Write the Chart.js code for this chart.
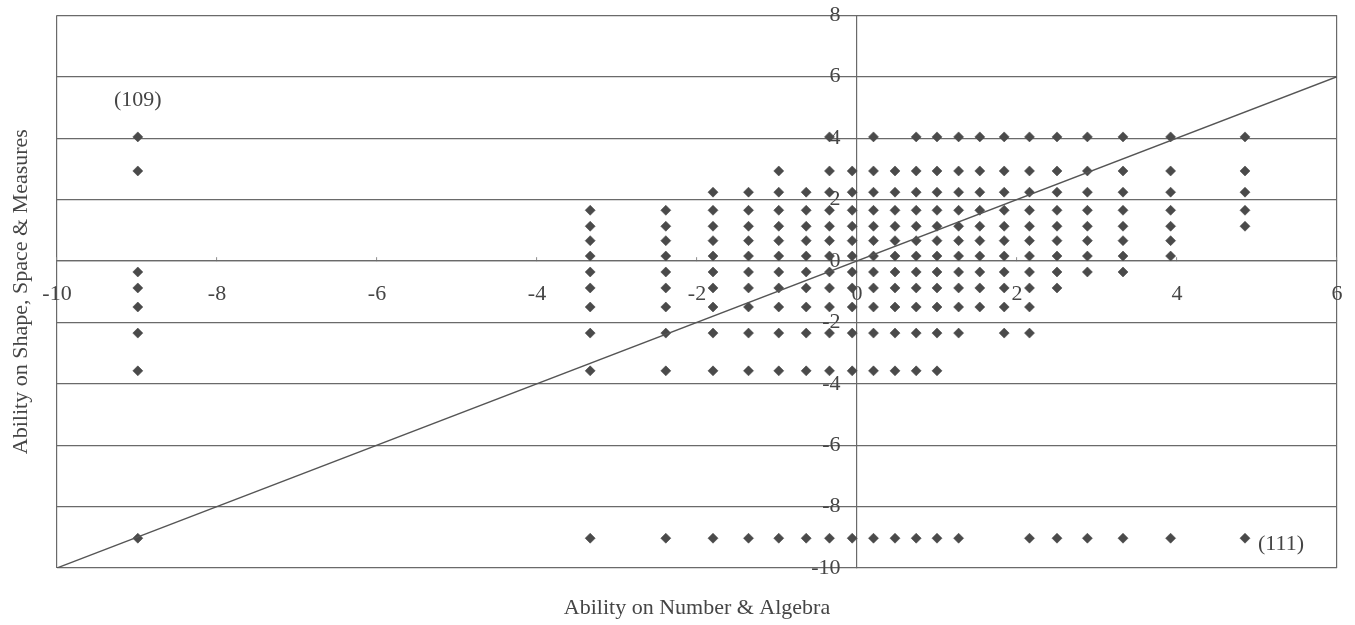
<!DOCTYPE html>
<html>
<head>
<meta charset="utf-8">
<script src="https://cdn.jsdelivr.net/npm/chart.js@4/dist/chart.umd.min.js"></script>
<style>
  html, body { margin: 0; padding: 0; background: #ffffff; }
  #wrap { width: 1355px; height: 625px; }
</style>
</head>
<body>
<div id="wrap"><canvas id="chart" width="1355" height="625"></canvas></div>
<script>
// Ability estimates (logits) on Number & Algebra: one value per column of points
const numberAbility = [-8.99, -3.335, -2.39, -1.80, -1.356, -0.978, -0.635, -0.344, -0.06, 0.206, 0.475,
                       0.74, 1.00, 1.27, 1.535, 1.84, 2.156, 2.50, 2.88, 3.325, 3.92, 4.85];

// Ability estimates (logits) on Shape, Space & Measures: one value per row of points
const shapeAbility = [4.04, 2.93, 2.24, 1.65, 1.13, 0.66, 0.16, -0.36, -0.88, -1.50, -2.35, -3.58, -9.03];

// Observed combinations: for each Number & Algebra estimate, which Shape estimates occur
// (one character per entry of shapeAbility, '1' = observed)
const observedPairs = [
  '1100000111111', // -8.99
  '0001111111111', // -3.335
  '0001111111111', // -2.39
  '0011111111111', // -1.80
  '0011111111111', // -1.356
  '0111111111111', // -0.978
  '0011111111111', // -0.635
  '1111111111111', // -0.344
  '0111111111111', // -0.06
  '1111111111111', // 0.206
  '0111111111111', // 0.475
  '1111111111111', // 0.74
  '1111111111111', // 1.00
  '1111111111101', // 1.27
  '1111111111000', // 1.535
  '1111111111100', // 1.84
  '1111111111101', // 2.156
  '1111111110001', // 2.50
  '1111111100001', // 2.88
  '1111111100001', // 3.325
  '1111111000001', // 3.92
  '1111100000001'  // 4.85
];

// Line of equal ability on both strands
const equalLineX = [-10, 6];
const equalLineY = [-10, 6];

// Case labels attached to two of the points
const caseLabels = ['(109)', '(111)'];
const caseLabelX = [-8.99, 4.85];
const caseLabelY = [4.04, -9.03];

// Axis settings
const xTicks = { min: -10, max: 6, step: 2 };
const yTicks = { min: -10, max: 8, step: 2 };
const xTitle = 'Ability on Number & Algebra';
const yTitle = 'Ability on Shape, Space & Measures';

const points = [];
numberAbility.forEach((nx, c) => {
  shapeAbility.forEach((sy, r) => {
    if (observedPairs[c][r] === '1') points.push({ x: nx, y: sy });
  });
});
const linePoints = equalLineX.map((v, i) => ({ x: v, y: equalLineY[i] }));

const FONT = "'Liberation Serif', 'Times New Roman', serif";
const TEXT = '#454545';
const GRID = '#6a6a6a';

const caseLabelPlugin = {
  id: 'caseLabels',
  afterDatasetsDraw(chart) {
    const { ctx, scales } = chart;
    ctx.save();
    ctx.font = '22px ' + FONT;
    ctx.fillStyle = TEXT;
    ctx.textBaseline = 'middle';
    caseLabels.forEach((t, i) => {
      const px = scales.x.getPixelForValue(caseLabelX[i]);
      const py = scales.y.getPixelForValue(caseLabelY[i]);
      if (i === 0) {
        ctx.textAlign = 'center';
        ctx.fillText(t, px, py - 37);
      } else {
        ctx.textAlign = 'left';
        ctx.fillText(t, px + 13, py + 6);
      }
    });
    ctx.restore();
  }
};

new Chart(document.getElementById('chart'), {
  type: 'scatter',
  data: {
    datasets: [
      {
        data: linePoints,
        showLine: true,
        borderColor: '#555555',
        borderWidth: 1.3,
        pointRadius: 0,
        fill: false
      },
      {
        data: points,
        pointStyle: 'rectRot',
        pointRadius: 5,
        pointBackgroundColor: '#4a4a4a',
        pointBorderColor: '#4a4a4a',
        pointBorderWidth: 0.6
      }
    ]
  },
  options: {
    responsive: false,
    animation: false,
    events: [],
    layout: { autoPadding: false, padding: { top: 15.3, right: 18, bottom: 0, left: 0 } },
    scales: {
      x: {
        type: 'linear',
        position: { y: 0 },
        min: xTicks.min,
        max: xTicks.max,
        // axes cross inside the plot, so they need no outer margin
        afterFit: (scale) => { scale.paddingLeft = 0; scale.paddingRight = 0; },
        ticks: {
          stepSize: xTicks.step,
          padding: 24,
          color: TEXT,
          font: { family: FONT, size: 22 },
          maxRotation: 0,
          autoSkip: false
        },
        grid: {
          color: (ctx) => (ctx.tick && (ctx.tick.value === xTicks.min || ctx.tick.value === xTicks.max)) ? GRID : 'rgba(0,0,0,0)',
          lineWidth: 1.2,
          drawTicks: true,
          tickLength: -4,
          tickColor: '#8c8c8c',
          tickWidth: 1
        },
        border: { display: true, color: GRID, width: 1.2 }
      },
      y: {
        type: 'linear',
        position: { x: 0 },
        min: yTicks.min,
        max: yTicks.max,
        afterFit: (scale) => { scale.paddingTop = 0; scale.paddingBottom = 0; },
        ticks: {
          stepSize: yTicks.step,
          color: TEXT,
          font: { family: FONT, size: 22 },
          autoSkip: false,
          // gap between the value labels and the axis line
          callback: (v) => v + '   '
        },
        grid: {
          color: GRID,
          lineWidth: 1.2,
          drawTicks: false
        },
        border: { display: true, color: GRID, width: 1.2 }
      }
    },
    plugins: {
      legend: { display: false },
      tooltip: { enabled: false },
      title: {
        display: true,
        text: xTitle,
        position: 'bottom',
        fullSize: false,
        color: TEXT,
        font: { family: FONT, size: 22, weight: 'normal' },
        padding: { top: 26.8, bottom: 3.8 }
      },
      subtitle: {
        display: true,
        text: yTitle,
        position: 'left',
        fullSize: false,
        color: TEXT,
        font: { family: FONT, size: 22, weight: 'normal' },
        padding: { top: 8, bottom: 22.6 }
      }
    }
  },
  plugins: [caseLabelPlugin]
});
</script>
</body>
</html>
